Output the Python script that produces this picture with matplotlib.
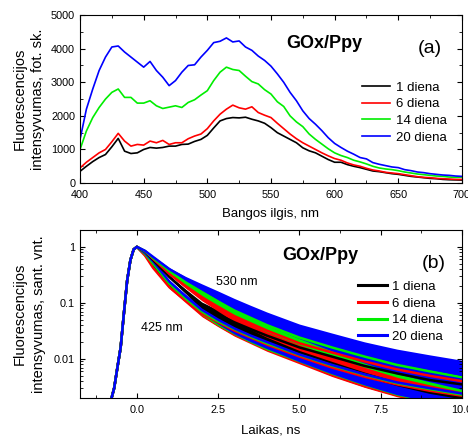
import numpy as np
import matplotlib
matplotlib.use("Agg")
import matplotlib.pyplot as plt
from matplotlib.ticker import MultipleLocator, LogLocator, NullFormatter

plt.rcParams['font.family'] = ['Liberation Sans', 'DejaVu Sans']

# =================================================
# DATA (a) - spectra
# =================================================
wl = np.arange(400, 701, 5)

spec_1 = [350, 500, 640, 760, 850, 1080, 1330, 950, 880, 900, 1000, 1060, 1040, 1060,
          1100, 1100, 1150, 1160, 1240, 1300, 1420, 1640, 1850, 1920, 1950, 1940, 1960,
          1900, 1850, 1780, 1650, 1500, 1400, 1300, 1200, 1050, 960, 900, 800, 700, 620,
          620, 550, 500, 460, 410, 360, 340, 310, 280, 260, 230, 200, 180, 160, 140, 130,
          110, 100, 95, 90]
spec_6 = [450, 620, 760, 900, 1000, 1230, 1480, 1250, 1100, 1150, 1130, 1250, 1200, 1270,
          1150, 1200, 1200, 1320, 1400, 1460, 1620, 1850, 2050, 2200, 2320, 2240, 2200,
          2270, 2100, 2020, 1950, 1780, 1620, 1460, 1320, 1200, 1100, 1000, 900, 810, 730,
          680, 600, 540, 500, 440, 390, 360, 320, 300, 280, 250, 220, 190, 170, 160, 140,
          130, 120, 110, 110]
spec_14 = [1000, 1550, 1950, 2250, 2500, 2700, 2800, 2550, 2550, 2380, 2380, 2450, 2300,
           2220, 2260, 2300, 2250, 2400, 2480, 2620, 2750, 3050, 3300, 3450, 3380, 3350,
           3180, 3020, 2950, 2780, 2650, 2420, 2280, 2000, 1820, 1680, 1460, 1300, 1160,
           1020, 900, 820, 760, 680, 630, 570, 500, 450, 420, 400, 370, 330, 300, 270, 250,
           230, 210, 200, 180, 170, 180]
spec_20 = [1300, 2200, 2800, 3350, 3750, 4050, 4080, 3900, 3750, 3600, 3450, 3620, 3350,
           3150, 2900, 3050, 3300, 3500, 3520, 3750, 3950, 4180, 4220, 4320, 4200, 4230,
           4050, 3950, 3780, 3650, 3480, 3250, 3000, 2700, 2450, 2150, 1920, 1750, 1560,
           1350, 1180, 1060, 950, 860, 760, 720, 610, 560, 520, 480, 460, 400, 370, 330,
           310, 280, 260, 240, 230, 210, 200]

# =================================================
# DATA (b) - decays
# =================================================
t_rise = [-1.75, -1.0, -0.8, -0.7, -0.6, -0.5, -0.4, -0.3, -0.2, -0.1]
rise = [0.0012, 0.0014, 0.0018, 0.003, 0.007, 0.016, 0.065, 0.25, 0.58, 0.9]

t_decay = [0.0, 0.25, 0.5, 1.0, 1.5, 2.0, 2.5, 3.0, 3.5, 4.0, 5.0, 6.0, 7.0, 8.0, 9.0, 10.0]
# noise band half width, decades
noise = [0.01, 0.01, 0.015, 0.025, 0.04, 0.06, 0.08, 0.1, 0.11, 0.12, 0.13, 0.16, 0.19,
         0.22, 0.24, 0.26]

d530_1 = [1.0, 0.82, 0.58, 0.29, 0.16, 0.09, 0.062, 0.045, 0.034, 0.026, 0.016, 0.011,
          0.0075, 0.0055, 0.0042, 0.0035]
d530_6 = [1.0, 0.83, 0.61, 0.33, 0.2, 0.125, 0.085, 0.058, 0.043, 0.032, 0.019, 0.013,
          0.009, 0.0065, 0.005, 0.004]
d530_14 = [1.0, 0.84, 0.63, 0.37, 0.23, 0.155, 0.105, 0.073, 0.054, 0.04, 0.024, 0.016,
           0.011, 0.0078, 0.006, 0.0047]
d530_20 = [1.0, 0.85, 0.66, 0.40, 0.27, 0.19, 0.135, 0.095, 0.07, 0.052, 0.031, 0.02,
           0.013, 0.009, 0.0068, 0.0052]

d425_1 = [1.0, 0.72, 0.46, 0.2, 0.115, 0.067, 0.046, 0.033, 0.025, 0.019, 0.0115, 0.0072,
          0.0049, 0.0036, 0.0028, 0.0022]
d425_6 = [1.0, 0.7, 0.42, 0.19, 0.11, 0.065, 0.045, 0.032, 0.024, 0.018, 0.011, 0.007,
          0.0048, 0.0035, 0.0027, 0.0022]
d425_14 = [1.0, 0.75, 0.5, 0.22, 0.12, 0.07, 0.047, 0.034, 0.025, 0.019, 0.0118, 0.0076,
           0.0052, 0.0037, 0.0029, 0.0023]
d425_20 = [1.0, 0.78, 0.55, 0.24, 0.13, 0.075, 0.05, 0.035, 0.026, 0.02, 0.012, 0.0078,
           0.0053, 0.0038, 0.003, 0.0024]

labels = ["1 diena", "6 diena", "14 diena", "20 diena"]
colors = ["black", "#ff0000", "#00ee00", "#0000ff"]

# =================================================
# FIGURE
# =================================================
fig = plt.figure(figsize=(4.68, 4.38), dpi=100)
ax1 = fig.add_axes([0.171, 0.582, 0.816, 0.3836])
ax2 = fig.add_axes([0.171, 0.0913, 0.816, 0.3836])

for ax in (ax1, ax2):
    ax.tick_params(which="both", direction="in", top=True, right=True, labelsize=7.8)
    ax.tick_params(which="major", length=3.8)
    ax.tick_params(which="minor", length=2.2)
    ax.tick_params(axis="x", pad=5)

# ----- (a)
for s, c, lab in zip([spec_1, spec_6, spec_14, spec_20], colors, labels):
    ax1.plot(wl, s, color=c, lw=1.2, label=lab)

ax1.set_xlim(400, 700)
ax1.set_ylim(0, 5000)
ax1.xaxis.set_major_locator(MultipleLocator(50))
ax1.xaxis.set_minor_locator(MultipleLocator(25))
ax1.yaxis.set_major_locator(MultipleLocator(1000))
ax1.yaxis.set_minor_locator(MultipleLocator(500))
ax1.set_xlabel("Bangos ilgis, nm", fontsize=9.5, labelpad=6)
ax1.set_ylabel("Fluorescencijos\nintensyvumas, fot. sk.", fontsize=10.5, labelpad=4,
               linespacing=1.45)
ax1.text(0.64, 0.83, "GOx/Ppy", transform=ax1.transAxes, fontsize=13,
         fontweight="bold", ha="center", va="center")
ax1.text(0.915, 0.8, "(a)", transform=ax1.transAxes, fontsize=14,
         ha="center", va="center")
ax1.legend(loc="center left", bbox_to_anchor=(0.738, 0.42), frameon=False,
           fontsize=9.5, handlelength=2.1, handletextpad=0.5, labelspacing=0.33,
           borderpad=0, borderaxespad=0)

# ----- (b)
t = np.array(t_rise + t_decay)
nz = np.array([0.0] * len(t_rise) + noise)
groups = [d425_1, d425_6, d425_14, d425_20, d530_1, d530_6, d530_14, d530_20]
for i, d in enumerate(groups):
    y = np.array(rise + d)
    c = colors[i % 4]
    ax2.fill_between(t, y * 10 ** (-nz), y * 10 ** nz, color=c, lw=0)
    ax2.plot(t, y, color=c, lw=1.8,
             label=labels[i % 4] if i >= 4 else None)

ax2.set_yscale("log")
ax2.set_xlim(-1.75, 10)
ax2.set_ylim(0.002, 2.0)
ax2.xaxis.set_major_locator(MultipleLocator(2.5))
ax2.xaxis.set_minor_locator(MultipleLocator(1.25))
ax2.xaxis.set_major_formatter(plt.FuncFormatter(lambda v, p: f"{v:.1f}"))
ax2.yaxis.set_major_locator(LogLocator(base=10))
ax2.yaxis.set_minor_locator(LogLocator(base=10, subs=np.arange(2, 10)))
ax2.yaxis.set_minor_formatter(NullFormatter())
ax2.set_yticks([0.01, 0.1, 1])
ax2.set_yticklabels(["0.01", "0.1", "1"])
ax2.set_xlabel("Laikas, ns", fontsize=9.5, labelpad=7)
ax2.set_ylabel("Fluorescencijos\nintensyvumas, sant. vnt.", fontsize=10.5, labelpad=6,
               linespacing=1.45)
ax2.text(0.63, 0.85, "GOx/Ppy", transform=ax2.transAxes, fontsize=13,
         fontweight="bold", ha="center", va="center")
ax2.text(0.925, 0.80, "(b)", transform=ax2.transAxes, fontsize=14,
         ha="center", va="center")
ax2.text(0.41, 0.69, "530 nm", transform=ax2.transAxes, fontsize=9,
         ha="center", va="center")
ax2.text(0.215, 0.415, "425 nm", transform=ax2.transAxes, fontsize=9,
         ha="center", va="center")
leg = ax2.legend(loc="center left", bbox_to_anchor=(0.728, 0.513), frameon=False,
                 fontsize=9.5, handlelength=2.2, handletextpad=0.4, labelspacing=0.33,
                 borderpad=0, borderaxespad=0)
for h in leg.get_lines():
    h.set_linewidth(2.2)

fig.savefig("out.png", dpi=100)
